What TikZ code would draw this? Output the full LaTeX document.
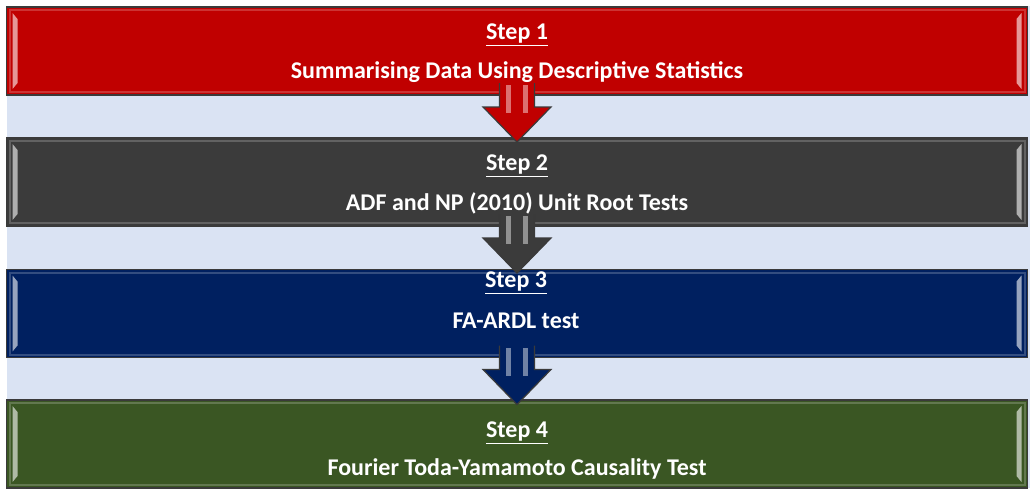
\documentclass[tikz,border=0pt]{standalone}
\usepackage{fontspec}
\setmainfont{Carlito}
\usetikzlibrary{calc}
\definecolor{bgblue}{HTML}{DAE3F3}
\definecolor{cred}{HTML}{C00000}
\definecolor{cgray}{HTML}{3B3B3B}
\definecolor{cnavy}{HTML}{002060}
\definecolor{cgreen}{HTML}{3A5623}
\definecolor{edge}{HTML}{3A3A3A}
\tikzset{
  stepbox/.style={draw=edge, line width=1.6pt, minimum width=1021pt, minimum height=88pt, inner sep=0pt, outer sep=0pt},
  steptext/.style={text=white, font=\bfseries\fontsize{24}{28}\selectfont, inner sep=0pt},
  arrowshape/.style={draw=edge, line width=1.2pt, line join=miter},
}
\newcommand{\mybevel}[2]{%
  \draw[#2!55!white, line width=2pt, opacity=0.45] ($(#1.north west)+(3,3)$) rectangle ($(#1.south east)+(-3,-3)$);
  \fill[#2!30!white, opacity=0.85] ($(#1.north west)+(6,6)$) -- ($(#1.north west)+(11,12)$) -- ($(#1.south west)+(11,-12)$) -- ($(#1.south west)+(6,-6)$) -- cycle;
  \fill[#2!30!white, opacity=0.85] ($(#1.north east)+(-6,6)$) -- ($(#1.north east)+(-11,12)$) -- ($(#1.south east)+(-11,-12)$) -- ($(#1.south east)+(-6,-6)$) -- cycle;
}
\newcommand{\mydownarrow}[2]{%
  \fill[#2, arrowshape] ($(#1.south)+(-17.5,-12)$) -- ($(#1.south)+(-17.5,12)$) -- ($(#1.south)+(-34,12)$) -- ($(#1.south)+(0,47)$) -- ($(#1.south)+(34,12)$) -- ($(#1.south)+(17.5,12)$) -- ($(#1.south)+(17.5,-12)$);
  \fill[#2!45!white, opacity=0.8] ($(#1.south)+(-11,-10)$) rectangle ($(#1.south)+(-6,18)$);
  \fill[#2!45!white, opacity=0.8] ($(#1.south)+(6,-10)$) rectangle ($(#1.south)+(11,18)$);
}
\begin{document}
\begin{tikzpicture}[x=1pt,y=-1pt]
\useasboundingbox (0,0) rectangle (1030,488);
\fill[bgblue] (7,6) rectangle (1030,488);
\node[stepbox, fill=cred,   anchor=north west] (b1) at (6.5,7) {};
\node[stepbox, fill=cgray,  anchor=north west] (b2) at (6.5,138) {};
\node[stepbox, fill=cnavy,  anchor=north west] (b3) at (6.5,269.5) {};
\node[stepbox, fill=cgreen, anchor=north west] (b4) at (6.5,400) {};
\mybevel{b1}{cred}
\mybevel{b2}{cgray}
\mybevel{b3}{cnavy}
\mybevel{b4}{cgreen}
\mydownarrow{b1}{cred}
\mydownarrow{b2}{cgray}
\mydownarrow{b3}{cnavy}
\node[steptext] (t1a) at (517,35) {\underline{Step 1}};
\node[steptext] (t1b) at (517,72) {Summarising Data Using Descriptive Statistics};
\node[steptext] (t2a) at (517,166) {\underline{Step 2}};
\node[steptext] (t2b) at (517,203) {ADF and NP (2010) Unit Root Tests};
\node[steptext] (t3a) at (516,283) {\underline{Step 3}};
\node[steptext] (t3b) at (516,321) {FA-ARDL test};
\node[steptext] (t4a) at (517,433) {\underline{Step 4}};
\node[steptext] (t4b) at (517,469) {Fourier Toda-Yamamoto Causality Test};
\end{tikzpicture}
\end{document}
